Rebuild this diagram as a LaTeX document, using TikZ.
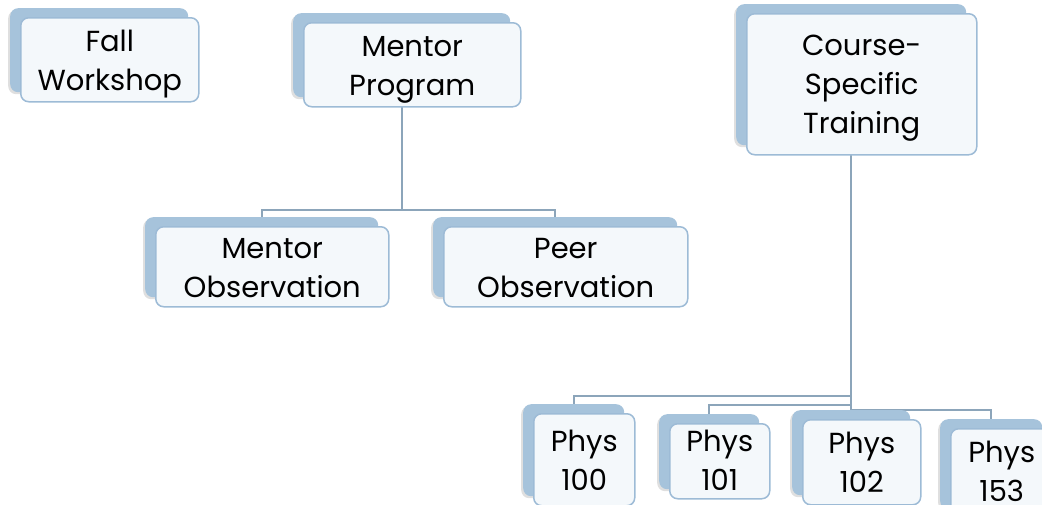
\documentclass[tikz,border=0pt]{standalone}
\usepackage{fontspec}
\setmainfont{Poppins}
\usetikzlibrary{calc,shadows}
\pgfdeclarelayer{background}
\pgfsetlayers{background,main}

\definecolor{backblue}{HTML}{A6C3DB}
\definecolor{frontfill}{HTML}{F4F8FB}
\definecolor{frontline}{HTML}{9DBBD6}
\definecolor{linkcol}{HTML}{8CA5BA}

\tikzset{
  backbox/.style={draw=none, fill=backblue, rounded corners=8pt, inner sep=0pt,
    drop shadow={opacity=0.25, shadow xshift=-2pt, shadow yshift=-2pt}},
  frontbox/.style={draw=frontline, line width=1.5pt, fill=frontfill, rounded corners=8pt,
    inner sep=0pt},
  cardtext/.style={inner sep=0pt, align=center, font=\fontsize{29}{39}\selectfont, text=black},
  link/.style={draw=linkcol, line width=2pt},
}

% \orgbox{name}{left}{top}{width}{height}{text}{text drop}: a card with a blue card behind it
\newcommand\orgbox[7]{%
  \node[backbox, anchor=north west, minimum width=#4pt, minimum height=#5pt] (#1-b) at (#2,#3) {};
  \node[frontbox, anchor=north west, minimum width=#4pt, minimum height=#5pt] (#1)
    at ($(#1-b.north west)+(10,9)$) {};
  \node[cardtext] (#1-t) at ($(#1.center)+(0,#7)$) {#6};
}

\begin{document}
\begin{tikzpicture}[x=1pt,y=-1pt]
\useasboundingbox (0,0) rectangle (1042,504);

\orgbox{fw}{10}{8}{178}{84}{Fall\\Workshop}{4}
\orgbox{mp}{293}{13}{217}{84}{Mentor\\Program}{5}
\orgbox{cst}{736}{4}{230}{141}{Course-\\Specific\\Training}{4}
\orgbox{mo}{145}{217}{233}{80}{Mentor\\Observation}{1}
\orgbox{po}{433}{217}{244}{80}{Peer\\Observation}{1}
\orgbox{p100}{523}{404}{101}{92}{Phys\\100}{1}
\orgbox{p101}{659}{414}{100}{75}{Phys\\101}{-1}
\orgbox{p102}{792}{410}{118}{85}{Phys\\102}{0}
\orgbox{p153}{940}{419}{102}{90}{Phys\\153}{-2}

\begin{pgfonlayer}{background}
  % Mentor Program branch
  \coordinate (mpbus) at ($(mp-b.south)+(0,113)$);
  \draw[link] (mp-b.south) -- (mpbus);
  \draw[link] (mpbus) -| (mo-b.north);
  \draw[link] (mpbus) -| (po-b.north);
  % Course-Specific Training branch
  \coordinate (bus100) at ($(cst-b.south)+(0,251)$);
  \coordinate (bus101) at ($(cst-b.south)+(0,260)$);
  \coordinate (bus153) at ($(cst-b.south)+(0,265)$);
  \draw[link] (cst-b.south) -- (p102-b.north);
  \draw[link] (bus100) -| (p100-b.north);
  \draw[link] (bus101) -| (p101-b.north);
  \draw[link] (bus153) -| (p153-b.north);
\end{pgfonlayer}
\end{tikzpicture}
\end{document}
